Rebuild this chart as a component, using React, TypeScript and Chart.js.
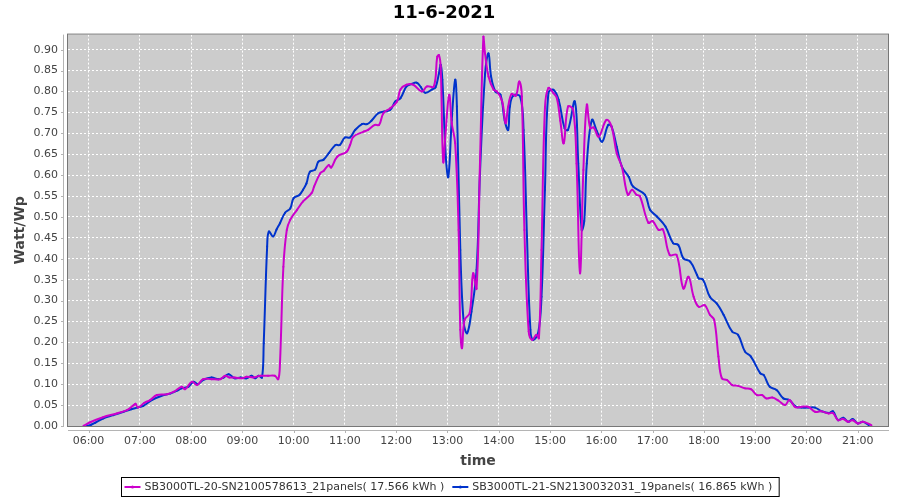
import React, { useEffect, useRef } from "react";
import { Chart, registerables } from "chart.js";

Chart.register(...registerables);

const TITLE = "11-6-2021";
const X_TITLE = "time";
const Y_TITLE = "Watt/Wp";

const X_MIN = 5.6;
const X_MAX = 21.59;
const Y_MIN = 0;
const Y_MAX = 0.936;

const X_TICK_LABELS = [
  "06:00", "07:00", "08:00", "09:00", "10:00", "11:00", "12:00", "13:00",
  "14:00", "15:00", "16:00", "17:00", "18:00", "19:00", "20:00", "21:00",
];
const Y_TICK_VALUES = [
  0, 0.05, 0.1, 0.15, 0.2, 0.25, 0.3, 0.35, 0.4, 0.45, 0.5, 0.55, 0.6, 0.65,
  0.7, 0.75, 0.8, 0.85, 0.9,
];
const Y_TICK_LABELS = [
  "0.00", "0.05", "0.10", "0.15", "0.20", "0.25", "0.30", "0.35", "0.40",
  "0.45", "0.50", "0.55", "0.60", "0.65", "0.70", "0.75", "0.80", "0.85", "0.90",
];

const S1_LABEL = "SB3000TL-20-SN2100578613_21panels( 17.566 kWh )";
const S2_LABEL = "SB3000TL-21-SN2130032031_19panels( 16.865 kWh )";
const S1_COLOR = "#cc00cc";
const S2_COLOR = "#0033cc";

const S1_TIMES = [
  "05:54", "06:02", "06:17", "06:33", "06:45", "06:53", "06:55", "06:58",
  "07:05", "07:12", "07:20", "07:32", "07:40", "07:49", "07:53", "08:01",
  "08:07", "08:14", "08:24", "08:34", "08:40", "08:45", "08:51", "09:00",
  "09:05", "09:13", "09:21", "09:30", "09:38", "09:42", "09:44", "09:48",
  "09:52", "09:56", "10:04", "10:11", "10:21", "10:24", "10:31", "10:35",
  "10:41", "10:44", "10:51", "11:02", "11:06", "11:10", "11:22", "11:27",
  "11:35", "11:40", "11:45", "11:53", "12:01", "12:05", "12:12", "12:20",
  "12:30", "12:36", "12:44", "12:48", "12:50", "12:52", "12:55", "12:58",
  "13:02", "13:05", "13:09", "13:13", "13:15", "13:17", "13:20", "13:26",
  "13:30", "13:34", "13:38", "13:42", "13:44", "13:48", "13:54", "13:58",
  "14:04", "14:08", "14:11", "14:15", "14:20", "14:24", "14:27", "14:30",
  "14:35", "14:39", "14:44", "14:47", "14:50", "14:54", "14:58", "15:04",
  "15:08", "15:12", "15:16", "15:21", "15:27", "15:31", "15:35", "15:39",
  "15:43", "15:47", "15:51", "15:57", "16:06", "16:12", "16:18", "16:24",
  "16:31", "16:36", "16:41", "16:45", "16:55", "17:00", "17:07", "17:12",
  "17:20", "17:28", "17:36", "17:42", "17:48", "17:54", "18:01", "18:07",
  "18:12", "18:17", "18:21", "18:27", "18:33", "18:40", "18:48", "18:55",
  "19:02", "19:08", "19:13", "19:20", "19:27", "19:35", "19:40", "19:47",
  "19:54", "20:02", "20:10", "20:17", "20:26", "20:31", "20:37", "20:43",
  "20:49", "20:54", "21:00", "21:06", "21:16",
];
const S1_VALUES = [
  0.0, 0.009, 0.021, 0.03, 0.038, 0.05, 0.053, 0.044,
  0.055, 0.062, 0.074, 0.076, 0.082, 0.094, 0.088, 0.106,
  0.098, 0.112, 0.112, 0.112, 0.12, 0.116, 0.116, 0.114,
  0.118, 0.116, 0.12, 0.12, 0.12, 0.112, 0.15, 0.381,
  0.469, 0.493, 0.517, 0.537, 0.557, 0.573, 0.604, 0.61,
  0.624, 0.618, 0.644, 0.656, 0.672, 0.692, 0.704, 0.708,
  0.72, 0.72, 0.748, 0.76, 0.776, 0.805, 0.816, 0.816,
  0.8, 0.812, 0.812, 0.883, 0.887, 0.86, 0.632, 0.708,
  0.792, 0.724, 0.676, 0.469, 0.23, 0.186, 0.254, 0.27,
  0.365, 0.329, 0.628, 0.931, 0.89, 0.836, 0.804, 0.8,
  0.776, 0.724, 0.764, 0.794, 0.79, 0.824, 0.788, 0.469,
  0.226, 0.206, 0.218, 0.21, 0.421, 0.76, 0.808, 0.796,
  0.784, 0.73, 0.676, 0.764, 0.756, 0.628, 0.365, 0.612,
  0.768, 0.712, 0.714, 0.692, 0.732, 0.716, 0.652, 0.62,
  0.553, 0.565, 0.553, 0.55, 0.486, 0.49, 0.469, 0.47,
  0.409, 0.409, 0.329, 0.357, 0.309, 0.285, 0.289, 0.266,
  0.254, 0.166, 0.114, 0.11, 0.098, 0.096, 0.09, 0.088,
  0.074, 0.074, 0.066, 0.068, 0.061, 0.05, 0.062, 0.045,
  0.046, 0.046, 0.034, 0.035, 0.03, 0.031, 0.014, 0.017,
  0.01, 0.014, 0.006, 0.01, 0.002,
];

const S2_TIMES = [
  "05:58", "06:03", "06:08", "06:17", "06:29", "06:41", "06:50", "06:57",
  "07:04", "07:14", "07:28", "07:36", "07:43", "07:49", "07:57", "08:03",
  "08:08", "08:14", "08:24", "08:32", "08:38", "08:44", "08:51", "08:58",
  "09:05", "09:11", "09:15", "09:19", "09:23", "09:25", "09:29", "09:31",
  "09:36", "09:40", "09:44", "09:50", "09:56", "10:00", "10:07", "10:11",
  "10:15", "10:19", "10:25", "10:29", "10:35", "10:41", "10:49", "10:54",
  "11:00", "11:06", "11:12", "11:20", "11:26", "11:31", "11:39", "11:46",
  "11:53", "11:59", "12:05", "12:12", "12:18", "12:24", "12:29", "12:34",
  "12:42", "12:46", "12:50", "12:52", "12:54", "12:58", "13:01", "13:05",
  "13:09", "13:11", "13:15", "13:19", "13:23", "13:28", "13:34", "13:38",
  "13:44", "13:48", "13:51", "13:56", "14:02", "14:07", "14:11", "14:13",
  "14:17", "14:25", "14:29", "14:33", "14:37", "14:40", "14:46", "14:50",
  "14:54", "14:58", "15:04", "15:10", "15:17", "15:21", "15:29", "15:33",
  "15:37", "15:40", "15:43", "15:49", "15:55", "16:01", "16:08", "16:12",
  "16:18", "16:24", "16:32", "16:37", "16:51", "16:57", "17:05", "17:15",
  "17:24", "17:30", "17:36", "17:44", "17:52", "17:54", "17:59", "18:07",
  "18:15", "18:23", "18:33", "18:40", "18:48", "18:55", "19:06", "19:10",
  "19:17", "19:25", "19:33", "19:40", "19:47", "19:54", "20:02", "20:10",
  "20:17", "20:26", "20:31", "20:37", "20:43", "20:49", "20:54", "21:00",
  "21:06", "21:13",
];
const S2_VALUES = [
  0.0, 0.003, 0.008, 0.018, 0.026, 0.034, 0.04, 0.044,
  0.048, 0.062, 0.074, 0.078, 0.084, 0.09, 0.094, 0.106,
  0.1, 0.11, 0.116, 0.112, 0.116, 0.124, 0.114, 0.116,
  0.114, 0.12, 0.114, 0.12, 0.116, 0.198, 0.429, 0.465,
  0.453, 0.47, 0.485, 0.51, 0.52, 0.545, 0.553, 0.565,
  0.58, 0.608, 0.613, 0.632, 0.637, 0.652, 0.672, 0.672,
  0.69, 0.69, 0.708, 0.722, 0.722, 0.73, 0.748, 0.752,
  0.756, 0.776, 0.784, 0.812, 0.818, 0.821, 0.81, 0.797,
  0.805, 0.81, 0.843, 0.864, 0.828, 0.644, 0.596, 0.732,
  0.828, 0.764, 0.421, 0.246, 0.222, 0.273, 0.373, 0.604,
  0.843, 0.891, 0.836, 0.8, 0.792, 0.73, 0.708, 0.764,
  0.79, 0.788, 0.708, 0.453, 0.23, 0.206, 0.222, 0.309,
  0.565, 0.796, 0.804, 0.78, 0.712, 0.708, 0.776, 0.628,
  0.469, 0.49, 0.628, 0.732, 0.704, 0.68, 0.72, 0.716,
  0.668, 0.62, 0.596, 0.573, 0.553, 0.517, 0.501, 0.477,
  0.437, 0.433, 0.401, 0.393, 0.361, 0.353, 0.35, 0.309,
  0.293, 0.266, 0.226, 0.218, 0.178, 0.166, 0.126, 0.122,
  0.094, 0.086, 0.066, 0.062, 0.047, 0.044, 0.044, 0.044,
  0.036, 0.031, 0.035, 0.014, 0.02, 0.01, 0.017, 0.006,
  0.01, 0.002,
];

const toHours = (t: string) => {
  const [h, m] = t.split(":").map(Number);
  return h + m / 60;
};

const FONT = "DejaVu Sans";

const plotPlugin = {
  id: "plotDecor",
  beforeDraw(chart: any) {
    const { ctx, chartArea: a, width, height } = chart;
    ctx.save();
    ctx.fillStyle = "#ffffff";
    ctx.fillRect(0, 0, width, height);
    ctx.fillStyle = "#cccccc";
    ctx.fillRect(a.left, a.top, a.right - a.left, a.bottom - a.top);
    ctx.restore();
  },
  afterDraw(chart: any) {
    const { ctx, chartArea: a, scales, width } = chart;
    ctx.save();
    // plot outline
    ctx.strokeStyle = "#777777";
    ctx.lineWidth = 1;
    ctx.strokeRect(a.left - 0.5, a.top - 0.5, a.right - a.left + 1, a.bottom - a.top + 1);
    // axis lines (offset from plot)
    ctx.strokeStyle = "#b4b4b4";
    ctx.beginPath();
    ctx.moveTo(a.left - 4.5, a.top);
    ctx.lineTo(a.left - 4.5, a.bottom + 1);
    ctx.moveTo(a.left, a.bottom + 4.5);
    ctx.lineTo(a.right + 1, a.bottom + 4.5);
    ctx.stroke();
    ctx.beginPath();
    for (const v of Y_TICK_VALUES) {
      const y = Math.round(scales.y.getPixelForValue(v)) + 0.5;
      ctx.moveTo(a.left - 7, y);
      ctx.lineTo(a.left - 4.5, y);
    }
    for (const l of X_TICK_LABELS) {
      const x = Math.round(scales.x.getPixelForValue(toHours(l))) + 0.5;
      ctx.moveTo(x, a.bottom + 4.5);
      ctx.lineTo(x, a.bottom + 7);
    }
    ctx.stroke();

    // legend
    const items = [
      { label: S1_LABEL, color: S1_COLOR },
      { label: S2_LABEL, color: S2_COLOR },
    ];
    ctx.font = `11px "${FONT}"`;
    const sample = 16;
    const gap = 4;
    const itemGap = 8;
    const pad = 5;
    const widths = items.map((it) => sample + gap + ctx.measureText(it.label).width);
    const total = widths.reduce((s, w) => s + w, 0) + itemGap * (items.length - 1) + pad * 2;
    const boxLeft = Math.round(width / 2 - total / 2) + 0.5;
    const boxTop = 477.5;
    const boxH = 19;
    ctx.strokeStyle = "#000000";
    ctx.lineWidth = 1;
    ctx.strokeRect(boxLeft, boxTop, total, boxH);
    let x = boxLeft + pad - 2;
    const cy = boxTop + boxH / 2;
    items.forEach((it, i) => {
      ctx.strokeStyle = it.color;
      ctx.lineWidth = 2;
      ctx.beginPath();
      ctx.moveTo(x, cy);
      ctx.lineTo(x + sample, cy);
      ctx.stroke();
      ctx.fillStyle = it.color;
      ctx.beginPath();
      ctx.arc(x + sample / 2, cy, 1.5, 0, Math.PI * 2);
      ctx.fill();
      ctx.fillStyle = "#333333";
      ctx.textBaseline = "middle";
      ctx.textAlign = "left";
      ctx.fillText(it.label, x + sample + gap, cy + 0.5);
      x += widths[i] + itemGap;
    });
    ctx.restore();
  },
};

export default function App() {
  const canvasRef = useRef<HTMLCanvasElement | null>(null);

  useEffect(() => {
    document.body.style.margin = "0";
    const canvas = canvasRef.current;
    if (!canvas) return;
    const mk = (times: string[], values: number[]) =>
      times.map((t, i) => ({ x: toHours(t), y: values[i] }));

    const chart = new Chart(canvas, {
      type: "line",
      data: {
        datasets: [
          {
            label: S1_LABEL,
            data: mk(S1_TIMES, S1_VALUES),
            borderColor: S1_COLOR,
            backgroundColor: S1_COLOR,
            borderWidth: 2,
            pointRadius: 1,
            pointBorderWidth: 0,
            tension: 0.4,
            fill: false,
          },
          {
            label: S2_LABEL,
            data: mk(S2_TIMES, S2_VALUES),
            borderColor: S2_COLOR,
            backgroundColor: S2_COLOR,
            borderWidth: 2,
            pointRadius: 1,
            pointBorderWidth: 0,
            tension: 0.4,
            fill: false,
          },
        ],
      },
      options: {
        animation: false,
        responsive: false,
        devicePixelRatio: 1,
        layout: { padding: { left: 0, right: 12, top: 0, bottom: 30 } },
        plugins: {
          legend: { display: false },
          tooltip: { enabled: false },
          title: {
            display: true,
            text: TITLE,
            color: "#000000",
            font: { family: FONT, size: 18, weight: "bold" },
            padding: { top: 3, bottom: 10 },
          },
        },
        scales: {
          x: {
            type: "linear",
            min: X_MIN,
            max: X_MAX,
            afterFit: (s: any) => {
              s.height = 44;
            },
            afterBuildTicks: (s: any) => {
              s.ticks = X_TICK_LABELS.map((l) => ({ value: toHours(l) }));
            },
            border: { display: false, dash: [2, 2] },
            grid: {
              color: "#ffffff",
              lineWidth: 1,
              drawTicks: false,
            },
            ticks: {
              autoSkip: false,
              maxRotation: 0,
              padding: 9,
              color: "#444444",
              font: { family: FONT, size: 11 },
              callback: (_v: any, i: number) => X_TICK_LABELS[i],
            },
            title: {
              display: true,
              text: X_TITLE,
              color: "#444444",
              font: { family: FONT, size: 14, weight: "bold" },
              padding: { top: 0, bottom: 0 },
            },
          },
          y: {
            type: "linear",
            min: Y_MIN,
            max: Y_MAX,
            afterFit: (s: any) => {
              s.width = 68;
            },
            afterBuildTicks: (s: any) => {
              s.ticks = Y_TICK_VALUES.map((v) => ({ value: v }));
            },
            border: { display: false, dash: [2, 2] },
            grid: {
              color: "#ffffff",
              lineWidth: 1,
              drawTicks: false,
            },
            ticks: {
              autoSkip: false,
              padding: 10,
              color: "#444444",
              font: { family: FONT, size: 11 },
              callback: (_v: any, i: number) => Y_TICK_LABELS[i],
            },
            title: {
              display: true,
              text: Y_TITLE,
              color: "#444444",
              font: { family: FONT, size: 14, weight: "bold" },
              padding: { top: 12, bottom: 0 },
            },
          },
        },
      },
      plugins: [plotPlugin],
    } as any);

    return () => chart.destroy();
  }, []);

  return (
    <div style={{ width: 900, height: 500 }}>
      <canvas ref={canvasRef} width={900} height={500} />
    </div>
  );
}
